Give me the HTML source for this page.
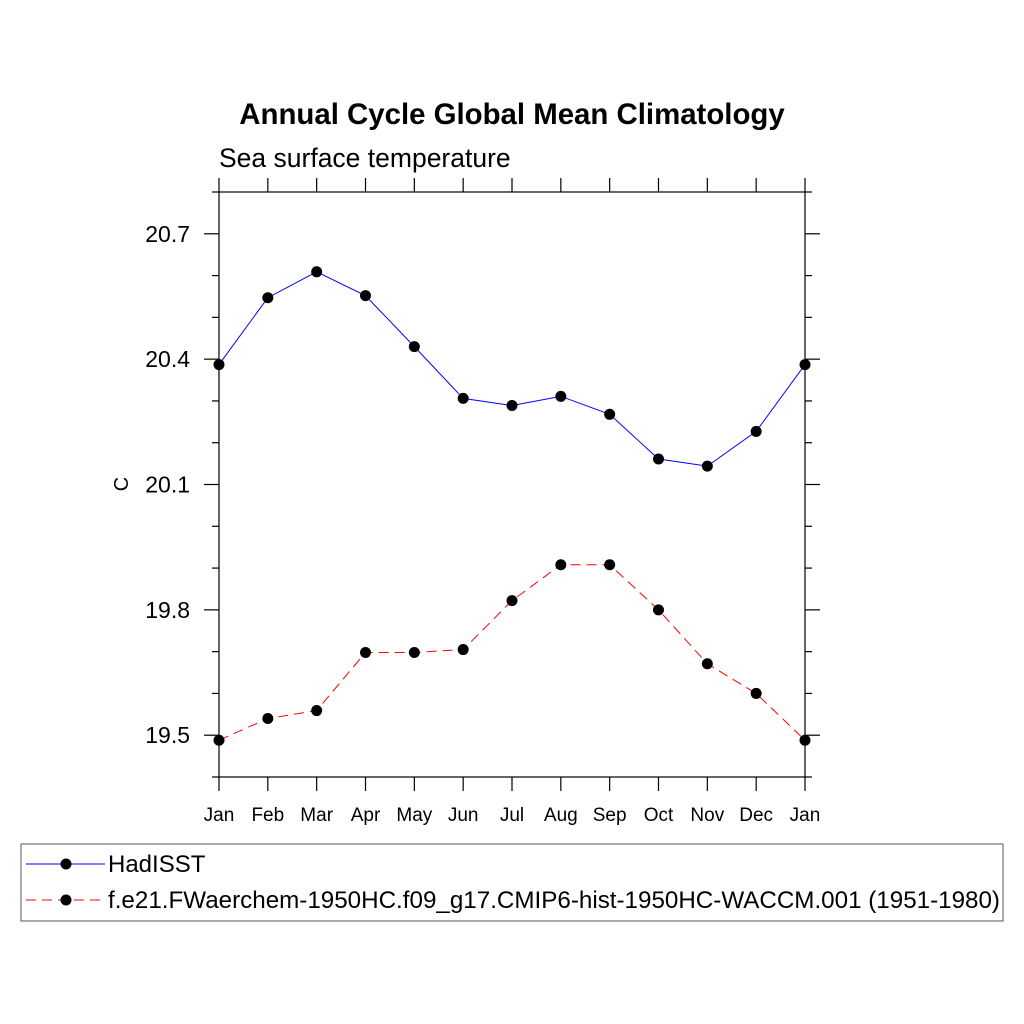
<!DOCTYPE html>
<html><head><meta charset="utf-8"><style>body{margin:0;background:#fff}svg{display:block}text{font-family:"Liberation Sans",sans-serif}</style></head>
<body>
<svg id="c" width="1024" height="1024" xmlns="http://www.w3.org/2000/svg">
<rect width="1024" height="1024" fill="#fff"/>
<text x="512" y="124" text-anchor="middle" font-size="29.4" font-weight="bold">Annual Cycle Global Mean Climatology</text>
<text x="219" y="167" font-size="26.5">Sea surface temperature</text>
<text transform="translate(128,484) rotate(-90)" text-anchor="middle" font-size="20">C</text>
<g id="axes"></g>
<g id="series"></g>
<g>
<rect x="21" y="844" width="982" height="77" fill="#fff" stroke="#555" stroke-width="1"/>
<g>
<line x1="26" y1="864" x2="105" y2="864" stroke="#00f" stroke-width="1"/>
<circle cx="66" cy="864" r="5.5" fill="#000"/>
<text x="108" y="872" font-size="24">HadISST</text></g>
<g>
<line x1="26" y1="900" x2="105" y2="900" stroke="#f00" stroke-width="1" stroke-dasharray="10,6"/>
<circle cx="66" cy="900" r="5.5" fill="#000"/>
<text x="108" y="908" font-size="24" textLength="892" lengthAdjust="spacingAndGlyphs">f.e21.FWaerchem-1950HC.f09_g17.CMIP6-hist-1950HC-WACCM.001 (1951-1980)</text></g>
</g>
</svg>
<script>
const months=["Jan","Feb","Mar","Apr","May","Jun","Jul","Aug","Sep","Oct","Nov","Dec","Jan"];
const hadisst=[20.387,20.547,20.609,20.552,20.430,20.306,20.289,20.311,20.268,20.161,20.144,20.227,20.387];
const model=[19.488,19.540,19.559,19.698,19.698,19.705,19.822,19.908,19.908,19.800,19.671,19.600,19.488];
const yTicks=[19.5,19.8,20.1,20.4,20.7];
const yMin=19.4,yMax=20.8;
const L=219,R=805,T=192,B=777;
const NS="http://www.w3.org/2000/svg";
const xs=i=>L+(R-L)*i/(months.length-1);
const ys=v=>B-(v-yMin)/(yMax-yMin)*(B-T);
function mk(p,tag,a){const e=document.createElementNS(NS,tag);for(const k in a)e.setAttribute(k,a[k]);p.appendChild(e);return e;}
const ax=document.getElementById('axes');
mk(ax,'rect',{x:L,y:T,width:R-L,height:B-T,fill:'none',stroke:'#000','stroke-width':1.2});
for(let i=0;i<months.length;i++){const x=xs(i);
 mk(ax,'line',{x1:x,y1:B,x2:x,y2:B+14,stroke:'#000','stroke-width':1.2});
 mk(ax,'line',{x1:x,y1:T,x2:x,y2:T-14,stroke:'#000','stroke-width':1.2});
 const t=mk(ax,'text',{x:x,y:B+44,'text-anchor':'middle','font-size':19});t.textContent=months[i];
 
 }
for(let k=0;k<=14;k++){const v=yMin+k*0.1;const y=ys(v);const major=yTicks.some(t=>Math.abs(t-v)<1e-6);const len=major?15:7;
 mk(ax,'line',{x1:L-len,y1:y,x2:L,y2:y,stroke:'#000','stroke-width':1.2});
 mk(ax,'line',{x1:R,y1:y,x2:R+len,y2:y,stroke:'#000','stroke-width':1.2});}
yTicks.forEach(v=>{const t=mk(ax,'text',{x:190,y:ys(v)+8,'text-anchor':'end','font-size':23});t.textContent=v.toFixed(1);
 
 });
const sg=document.getElementById('series');
function draw(vals,color,dash,name){const g=mk(sg,'g',{});
 
 
 mk(g,'polyline',{points:vals.map((v,i)=>xs(i)+','+ys(v)).join(' '),fill:'none',stroke:color,'stroke-width':1,'stroke-dasharray':dash});
 vals.forEach((v,i)=>{const c=mk(g,'circle',{cx:xs(i),cy:ys(v),r:5.5,fill:'#000'});
  
  });}
draw(hadisst,'#00f','none','hadisst-series');
draw(model,'#f00','10,6','model-series');
</script>
</body></html>
